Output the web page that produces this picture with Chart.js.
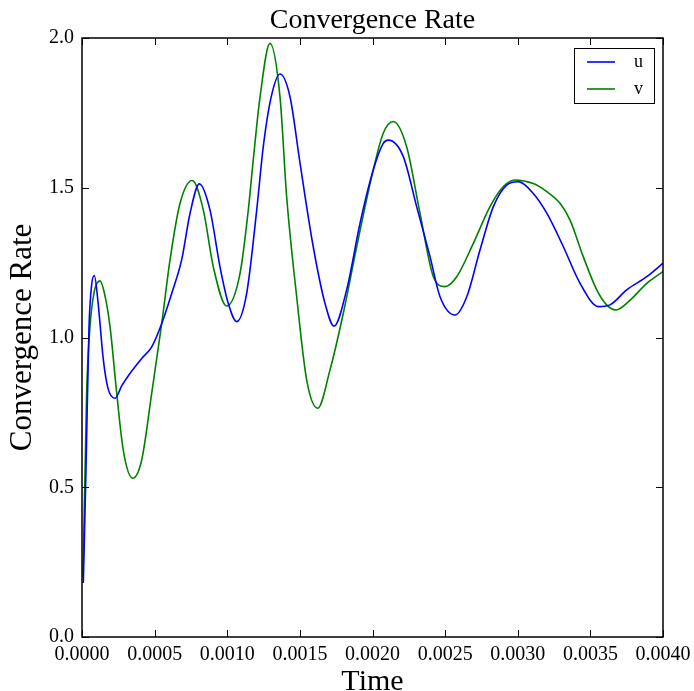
<!DOCTYPE html>
<html>
<head>
<meta charset="utf-8">
<script src="https://cdn.jsdelivr.net/npm/chart.js@4"></script>
<style>
  html, body { margin: 0; padding: 0; background: #ffffff; }
  #wrap { width: 694px; height: 691px; }
</style>
</head>
<body>
<div id="wrap"><canvas id="rate-chart" width="694" height="691"></canvas></div>
<script>
// Données (temps en secondes)
const titreGraphique = 'Convergence Rate';
const titreX = 'Time';
const titreY = 'Convergence Rate';
const nomsSeries = ['u', 'v'];
const couleursSeries = ['#0000ff', '#008000'];

const tempsU = [0.000009, 0.0000275, 0.000048, 0.000065, 0.000085, 0.00011, 0.000147, 0.000179, 0.000227, 0.000275,
    0.00033, 0.000411, 0.00048, 0.000549, 0.000618, 0.000686, 0.000744, 0.000808, 0.000881, 0.00095,
    0.001007, 0.001065, 0.001134, 0.001203, 0.001248, 0.001301, 0.001363, 0.001432, 0.001501, 0.001592,
    0.001673, 0.001735, 0.001822, 0.001914, 0.002005, 0.002074, 0.002109, 0.002212, 0.002304, 0.002396,
    0.002465, 0.002568, 0.002649, 0.00274, 0.002832, 0.002924, 0.003004, 0.003107, 0.0032, 0.003314,
    0.003429, 0.003555, 0.003635, 0.00375, 0.003888, 0.004];
const valeursU = [0.18, 0.56, 1.03, 1.17, 1.207, 1.12, 0.925, 0.83, 0.797, 0.84,
    0.88, 0.93, 0.969, 1.047, 1.148, 1.259, 1.415, 1.513, 1.426, 1.236,
    1.114, 1.053, 1.148, 1.426, 1.637, 1.80, 1.880, 1.804, 1.582, 1.303,
    1.114, 1.038, 1.159, 1.381, 1.559, 1.648, 1.659, 1.604, 1.437, 1.270,
    1.136, 1.075, 1.136, 1.292, 1.437, 1.509, 1.520, 1.481, 1.415, 1.303,
    1.181, 1.103, 1.109, 1.159, 1.203, 1.248];

const tempsV = [0.000007, 0.000032, 0.000055, 0.000083, 0.000124, 0.000158, 0.000193, 0.000239, 0.000284, 0.000349,
    0.000411, 0.00048, 0.000549, 0.000606, 0.000675, 0.000759, 0.000835, 0.000904, 0.000996, 0.001088,
    0.001145, 0.001179, 0.001225, 0.001294, 0.001363, 0.001409, 0.001478, 0.001547, 0.001623, 0.001707,
    0.001799, 0.001891, 0.002005, 0.002074, 0.002143, 0.002235, 0.002327, 0.002419, 0.002499, 0.00258,
    0.002694, 0.002809, 0.002901, 0.002981, 0.003107, 0.0032, 0.003291, 0.00336, 0.003451, 0.003544,
    0.003612, 0.003677, 0.003774, 0.003888, 0.004];
const valeursV = [0.20, 0.815, 1.036, 1.15, 1.189, 1.14, 1.036, 0.814, 0.624, 0.530,
    0.591, 0.814, 1.047, 1.259, 1.448, 1.524, 1.426, 1.236, 1.105, 1.214,
    1.426, 1.593, 1.80, 1.982, 1.804, 1.470, 1.136, 0.858, 0.764, 0.891,
    1.081, 1.303, 1.559, 1.682, 1.721, 1.637, 1.415, 1.203, 1.170, 1.203,
    1.314, 1.437, 1.504, 1.526, 1.514, 1.487, 1.448, 1.392, 1.270, 1.159,
    1.109, 1.092, 1.125, 1.181, 1.220];

const policeSerif = "'Liberation Serif', 'Times New Roman', serif";

function versPoints(temps, valeurs) {
    return temps.map((t, i) => ({ x: t, y: valeurs[i] }));
}

// Cadre, graduations intérieures, titre et légende façon matplotlib
const cadrePlugin = {
    id: 'cadre',
    afterDraw(chart) {
        const ctx = chart.ctx;
        const zone = chart.chartArea;
        const sx = chart.scales.x;
        const sy = chart.scales.y;
        const longueur = 7;

        ctx.save();
        ctx.strokeStyle = '#000000';
        ctx.lineWidth = 1;
        ctx.beginPath();
        sx.ticks.forEach(t => {
            const px = Math.round(sx.getPixelForValue(t.value)) + 0.5;
            ctx.moveTo(px, zone.bottom); ctx.lineTo(px, zone.bottom - longueur);
            ctx.moveTo(px, zone.top); ctx.lineTo(px, zone.top + longueur);
        });
        sy.ticks.forEach(t => {
            const py = Math.round(sy.getPixelForValue(t.value)) + 0.5;
            ctx.moveTo(zone.left, py); ctx.lineTo(zone.left + longueur, py);
            ctx.moveTo(zone.right, py); ctx.lineTo(zone.right - longueur, py);
        });
        ctx.stroke();

        ctx.lineWidth = 1.5;
        ctx.strokeRect(zone.left, zone.top, zone.right - zone.left, zone.bottom - zone.top);

        // Titre
        ctx.fillStyle = '#000000';
        ctx.font = '28px ' + policeSerif;
        ctx.textAlign = 'center';
        ctx.textBaseline = 'alphabetic';
        ctx.fillText(titreGraphique, (zone.left + zone.right) / 2, 28);

        // Légende
        const boiteX = zone.right - 89;
        const boiteY = zone.top + 10;
        ctx.fillStyle = '#ffffff';
        ctx.fillRect(boiteX, boiteY, 80, 55);
        ctx.lineWidth = 1;
        ctx.strokeStyle = '#000000';
        ctx.strokeRect(boiteX + 0.5, boiteY + 0.5, 80, 55);
        ctx.font = '18px ' + policeSerif;
        ctx.textAlign = 'left';
        ctx.textBaseline = 'middle';
        chart.data.datasets.forEach((ds, i) => {
            const ly = boiteY + 14 + i * 27;
            ctx.strokeStyle = ds.borderColor;
            ctx.lineWidth = 1.6;
            ctx.beginPath();
            ctx.moveTo(boiteX + 13, ly);
            ctx.lineTo(boiteX + 41, ly);
            ctx.stroke();
            ctx.fillStyle = '#000000';
            ctx.fillText(ds.label, boiteX + 60, ly);
        });
        ctx.restore();
    }
};

const ctx = document.getElementById('rate-chart').getContext('2d');
new Chart(ctx, {
    type: 'line',
    data: {
        datasets: [
            {
                label: nomsSeries[0],
                data: versPoints(tempsU, valeursU),
                borderColor: couleursSeries[0],
                borderWidth: 1.6,
                pointRadius: 0,
                fill: false,
                cubicInterpolationMode: 'monotone'
            },
            {
                label: nomsSeries[1],
                data: versPoints(tempsV, valeursV),
                borderColor: couleursSeries[1],
                borderWidth: 1.6,
                pointRadius: 0,
                fill: false,
                cubicInterpolationMode: 'monotone'
            }
        ]
    },
    options: {
        responsive: false,
        animation: false,
        layout: { padding: { left: 0, right: 31, top: 38, bottom: 0 } },
        plugins: {
            legend: { display: false },
            title: { display: false },
            tooltip: { enabled: false }
        },
        scales: {
            x: {
                type: 'linear',
                min: 0,
                max: 0.004,
                grid: { display: false, drawTicks: false },
                border: { display: false },
                ticks: {
                    stepSize: 0.0005,
                    padding: 6,
                    color: '#000000',
                    maxRotation: 0,
                    autoSkip: false,
                    font: { family: policeSerif, size: 20 },
                    callback: (v) => Number(v).toFixed(4)
                },
                title: {
                    display: true,
                    text: titreX,
                    color: '#000000',
                    font: { family: policeSerif, size: 30 },
                    padding: { top: 0, bottom: -9 }
                },
                afterFit: (scale) => {
                    scale.height = 54;
                    scale.paddingLeft = 0;
                    scale.paddingRight = 0;
                }
            },
            y: {
                min: 0,
                max: 2,
                grid: { display: false, drawTicks: false },
                border: { display: false },
                ticks: {
                    stepSize: 0.5,
                    padding: 8,
                    color: '#000000',
                    font: { family: policeSerif, size: 20 },
                    callback: (v) => Number(v).toFixed(1)
                },
                title: {
                    display: true,
                    text: titreY,
                    color: '#000000',
                    font: { family: policeSerif, size: 31 },
                    padding: { top: 4, bottom: 0 }
                },
                afterFit: (scale) => {
                    scale.width = 82;
                    scale.paddingTop = 0;
                    scale.paddingBottom = 0;
                }
            }
        }
    },
    plugins: [cadrePlugin]
});
</script>
</body>
</html>
